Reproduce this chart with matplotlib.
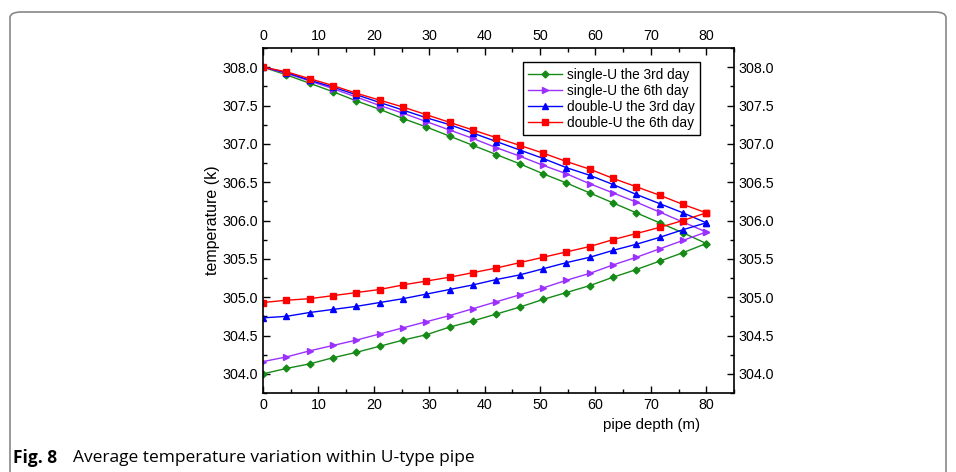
import matplotlib.pyplot as plt
from matplotlib.patches import FancyBboxPatch
from matplotlib.ticker import MultipleLocator

plt.rcParams['font.family'] = ['Liberation Sans', 'DejaVu Sans']

depth = [80 * i / 19 for i in range(20)]

# descending leg (inlet) and ascending leg (outlet)
single3_down = [308.00, 307.90, 307.79, 307.68, 307.56, 307.45, 307.33, 307.22, 307.10, 306.98,
                306.86, 306.74, 306.61, 306.49, 306.36, 306.23, 306.10, 305.97, 305.84, 305.70]
single3_up = [304.00, 304.07, 304.13, 304.21, 304.28, 304.36, 304.44, 304.51, 304.61, 304.69,
              304.78, 304.87, 304.97, 305.06, 305.15, 305.26, 305.36, 305.47, 305.58, 305.70]
single6_down = [308.00, 307.92, 307.82, 307.72, 307.61, 307.50, 307.40, 307.29, 307.18, 307.07,
                306.95, 306.84, 306.72, 306.61, 306.48, 306.36, 306.24, 306.11, 305.98, 305.85]
single6_up = [304.16, 304.22, 304.30, 304.37, 304.44, 304.52, 304.60, 304.68, 304.76, 304.85,
              304.94, 305.03, 305.12, 305.22, 305.31, 305.42, 305.52, 305.63, 305.74, 305.85]
double3_down = [308.00, 307.93, 307.83, 307.74, 307.64, 307.54, 307.44, 307.34, 307.25, 307.14,
                307.03, 306.92, 306.81, 306.69, 306.59, 306.47, 306.34, 306.22, 306.10, 305.97]
double3_up = [304.73, 304.75, 304.80, 304.84, 304.88, 304.93, 304.98, 305.04, 305.10, 305.16,
              305.23, 305.29, 305.37, 305.45, 305.52, 305.61, 305.69, 305.78, 305.88, 305.97]
double6_down = [308.00, 307.94, 307.85, 307.76, 307.66, 307.57, 307.48, 307.38, 307.28, 307.18,
                307.08, 306.98, 306.88, 306.77, 306.67, 306.55, 306.44, 306.33, 306.21, 306.10]
double6_up = [304.93, 304.96, 304.98, 305.02, 305.06, 305.10, 305.16, 305.21, 305.26, 305.32,
              305.38, 305.45, 305.52, 305.59, 305.66, 305.75, 305.83, 305.91, 306.00, 306.10]

series = [
    ('single-U the 3rd day', single3_down, single3_up, '#168a16', 'D', 3.5),
    ('single-U the 6th day', single6_down, single6_up, '#9b30ff', '>', 5),
    ('double-U the 3rd day', double3_down, double3_up, '#0000ff', '^', 5),
    ('double-U the 6th day', double6_down, double6_up, '#ff0000', 's', 4.5),
]

fig = plt.figure(figsize=(9.56, 4.72), dpi=100)
ax = fig.add_axes([263 / 956, 1 - 393 / 472, 471 / 956, 345 / 472])

for name, down, up, col, mk, ms in series:
    ax.plot(depth, down, color=col, marker=mk, ms=ms, lw=1, label=name)
    ax.plot(depth, up, color=col, marker=mk, ms=ms, lw=1)

ax.set_xlim(0, 85)
ax.set_ylim(303.75, 308.25)
ax.xaxis.set_major_locator(MultipleLocator(10))
ax.xaxis.set_minor_locator(MultipleLocator(5))
ax.yaxis.set_major_locator(MultipleLocator(0.5))
ax.yaxis.set_minor_locator(MultipleLocator(0.25))
ax.yaxis.set_major_formatter(plt.FormatStrFormatter('%.1f'))
ax.tick_params(which='both', direction='in', top=True, right=True,
               labeltop=True, labelright=True, labelsize=10.3, width=1)
ax.tick_params(which='major', length=5)
ax.tick_params(which='minor', length=3)
for s in ax.spines.values():
    s.set_linewidth(1.2)

ax.set_ylabel('temperature (k)', fontsize=11.5)
ax.yaxis.set_label_coords(-0.092, 0.5)
fig.text(652 / 956, 1 - 425 / 472, 'pipe depth (m)', fontsize=10.8, ha='center', va='center')

leg = ax.legend(loc='upper right', bbox_to_anchor=(0.928, 0.959), borderaxespad=0,
                fontsize=9.8, fancybox=False, edgecolor='black', framealpha=1,
                handlelength=2.5, labelspacing=0.15, borderpad=0.4, handletextpad=0.35)
leg.get_frame().set_linewidth(1)

frame = FancyBboxPatch((10 / 956, 1 - 480 / 472), 936 / 956, 468 / 472,
                       boxstyle='round,pad=0,rounding_size=0.012', transform=fig.transFigure,
                       facecolor='none', edgecolor='#888888', lw=1.2, clip_on=False)
fig.patches.append(frame)

fig.text(13 / 956, 1 - 458 / 472, 'Fig. 8', fontsize=12.5, fontweight='bold',
         family='Open Sans', va='center')
fig.text(73 / 956, 1 - 458 / 472, 'Average temperature variation within U-type pipe',
         fontsize=12.5, family='Open Sans', va='center')

fig.savefig('out.png', dpi=100)
